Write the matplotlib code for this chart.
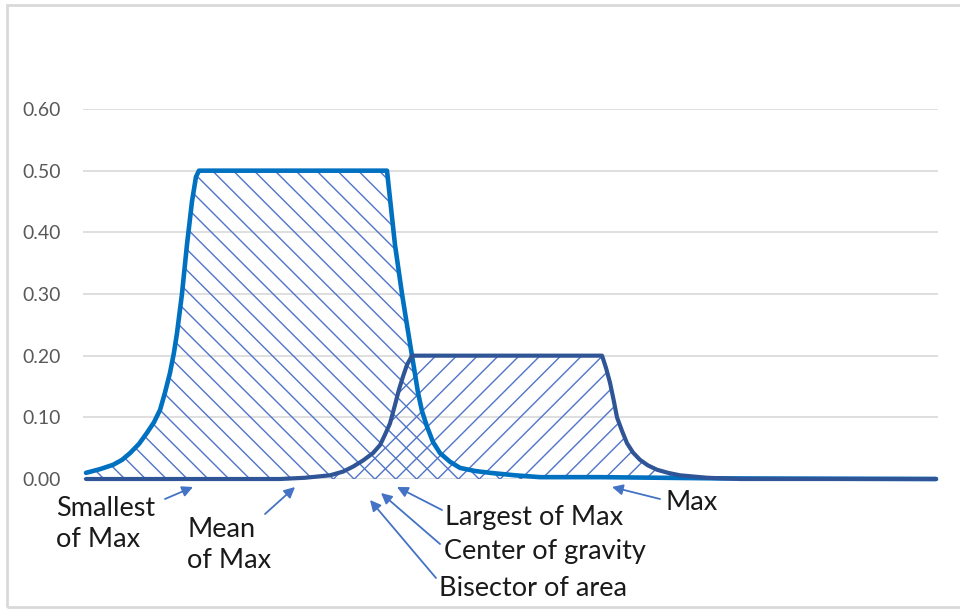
import matplotlib
matplotlib.use('Agg')
import matplotlib.pyplot as plt
from matplotlib.patches import Rectangle

# ---- data ----
x1 = [0, 1.65, 3.18, 4.24, 5.18, 6.24, 7.18, 8.0, 8.71, 9.29, 9.88, 10.35, 10.71,
      11.29, 11.88, 12.47, 12.94, 13.29,
      35.41, 35.88, 36.35, 37.18, 37.76, 38.35, 38.71, 39.06, 39.53, 40.12, 40.82,
      41.65, 42.82, 44.0, 45.76, 47.53, 50.47, 53.41, 60.47, 74.59, 100]
y1 = [0.01, 0.016, 0.023, 0.031, 0.042, 0.057, 0.075, 0.092, 0.112, 0.14, 0.172, 0.205, 0.237,
      0.30, 0.38, 0.45, 0.49, 0.50,
      0.50, 0.44, 0.38, 0.30, 0.25, 0.20, 0.17, 0.14, 0.11, 0.085, 0.06,
      0.042, 0.028, 0.018, 0.013, 0.01, 0.006, 0.003, 0.003, 0.001, 0.0]

x2 = [0, 22.82, 25.76, 28.71, 30.24, 31.41, 32.59, 33.76, 34.59, 35.18, 35.76, 36.35,
      36.82, 37.29, 37.76, 38.35,
      60.71, 61.18, 61.65, 62.12, 62.47, 63.06, 63.65, 64.35, 65.18, 66.12, 67.18,
      68.47, 69.88, 73.06, 76.94, 100]
y2 = [0, 0, 0.002, 0.006, 0.012, 0.02, 0.03, 0.042, 0.055, 0.072, 0.09, 0.12,
      0.145, 0.166, 0.185, 0.20,
      0.20, 0.18, 0.156, 0.125, 0.10, 0.078, 0.058, 0.043, 0.031, 0.022, 0.015,
      0.01, 0.006, 0.002, 0, 0]

yticks = [0.0, 0.1, 0.2, 0.3, 0.4, 0.5, 0.6]
ytick_labels = ['0.00', '0.10', '0.20', '0.30', '0.40', '0.50', '0.60']

ann_texts = ['Smallest\nof Max', 'Mean\nof Max', 'Largest of Max',
             'Center of gravity', 'Bisector of area', 'Max']

DPI = 125
K = 100 / DPI  # keep point sizes equal to their look at 100 dpi

plt.rcParams['font.family'] = ['Lato', 'DejaVu Sans']
plt.rcParams['hatch.color'] = '#4F74C8'
plt.rcParams['hatch.linewidth'] = 1.0 * K

W, H = 960, 610
fig = plt.figure(figsize=(W / DPI, H / DPI), dpi=DPI)
ax = fig.add_axes([83 / W, (H - 479) / H, 855 / W, 370 / H])

LIGHT = '#0070C0'
DARK = '#2F5597'

ax.fill_between(x1, 0, y1, facecolor='none', edgecolor='#4F74C8', linewidth=0, hatch='\\\\')
ax.fill_between(x2, 0, y2, facecolor='none', edgecolor='#4F74C8', linewidth=0, hatch='//')
ax.plot(x1, y1, color=LIGHT, lw=3.3 * K, solid_joinstyle='round', solid_capstyle='round', clip_on=False, zorder=3)
ax.plot(x2, y2, color=DARK, lw=3.0 * K, solid_joinstyle='round', solid_capstyle='round', clip_on=False, zorder=4)

ax.set_xlim(-3 / 8.5, 100 + 2 / 8.5)
ax.set_ylim(0, 0.6)
ax.set_yticks(yticks)
ax.set_yticklabels(ytick_labels)
ax.set_xticks([])
ax.tick_params(axis='y', length=0, pad=16 * K, labelsize=14 * K, labelcolor='#595959')
ax.grid(axis='y', color='#D9D9D9', lw=1.2 * K)
ax.set_axisbelow(True)
for s in ax.spines.values():
    s.set_visible(False)

# figure border
fig.patches.append(Rectangle((7, 3), 1000, 602, transform=None, fill=False,
                             edgecolor='#D9D9D9', lw=2.0 * K))

def P(px, py):
    return (px, H - py)

text_pos = [P(56, 524), P(187, 545), P(445, 518), P(444, 552), P(439, 588), P(666, 502)]
tails = [P(165, 499), P(265, 514), P(442, 510), P(440, 544), P(436, 578), P(660, 499)]
tips = [P(193, 487), P(295, 487), P(397, 487), P(381, 493), P(370, 500), P(612, 487)]

for t, tp in zip(ann_texts, text_pos):
    fig.text(tp[0] / W, tp[1] / H, t, fontsize=19.5 * K, color='#1a1a1a',
             ha='left', va='center', linespacing=1.3)

for tail, tip in zip(tails, tips):
    ax.annotate('', xy=tip, xycoords='figure pixels', xytext=tail, textcoords='figure pixels',
                arrowprops=dict(arrowstyle='-|>', color='#4472C4', lw=1.3 * K,
                                mutation_scale=16 * K, shrinkA=0, shrinkB=0),
                annotation_clip=False)

fig.savefig('out.png', dpi=DPI)
